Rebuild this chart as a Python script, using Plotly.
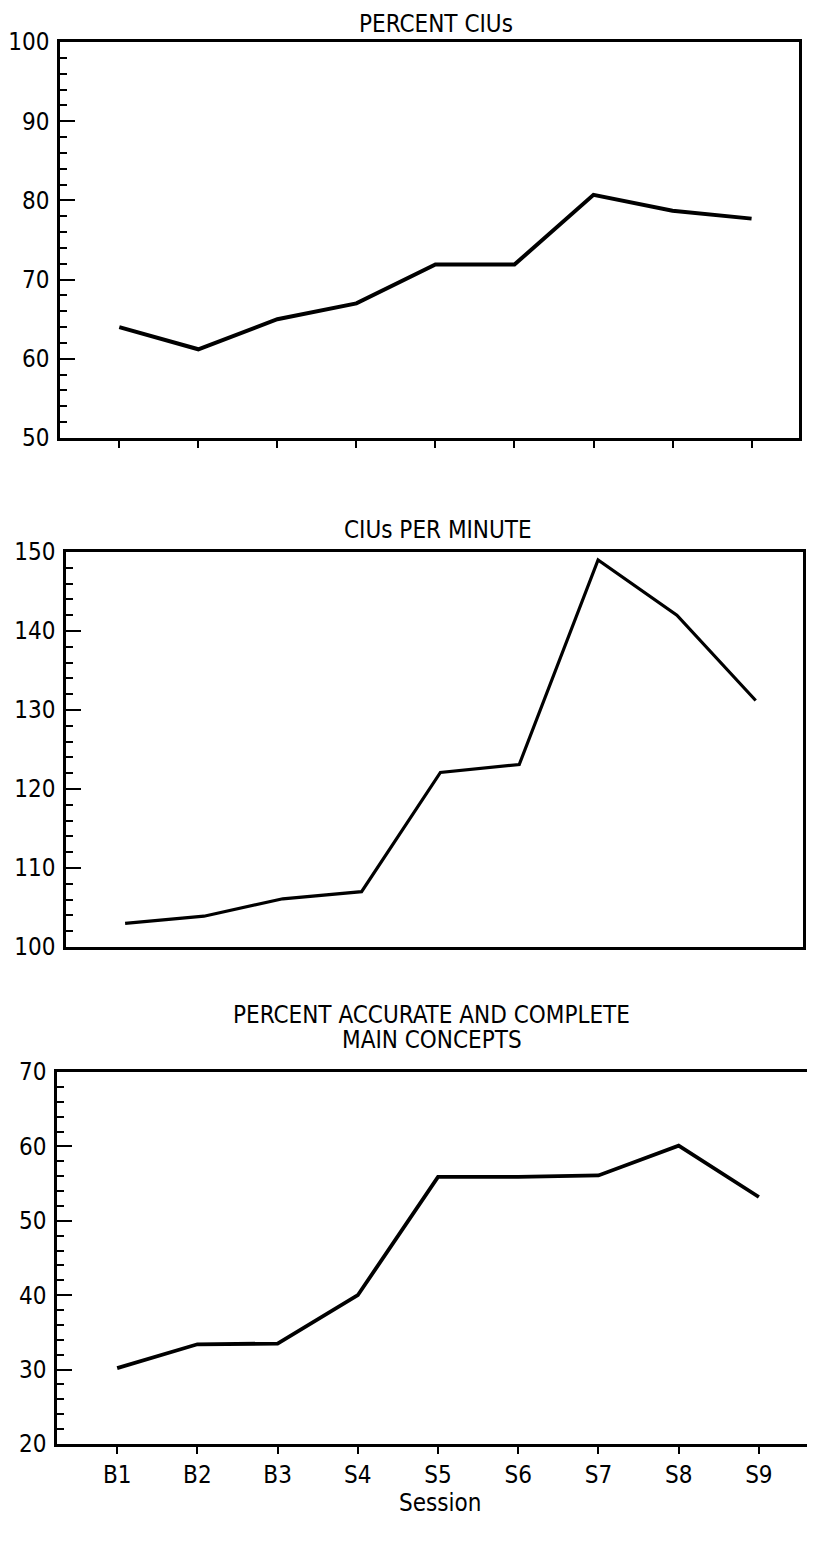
import plotly.graph_objects as go

sessions = ["B1", "B2", "B3", "S4", "S5", "S6", "S7", "S8", "S9"]
percent_cius = [64, 61.2, 65, 67, 71.9, 71.9, 80.7, 78.7, 77.7]
cius_per_minute = [103, 103.9, 106.1, 107, 122.1, 123.1, 149, 142, 131.2]
percent_main_concepts = [30.2, 33.4, 33.5, 40, 55.9, 55.9, 56.1, 60.1, 53.2]

titles = ["PERCENT CIUs", "CIUs PER MINUTE",
          "PERCENT ACCURATE AND COMPLETE", "MAIN CONCEPTS"]
y_ranges = [(50, 100), (100, 150), (20, 70)]
x_label = "Session"

# page body has an 8px margin, so the figure is drawn 8px smaller and offset
OFF = 8
W, H = 815 - OFF, 1543 - OFF
# plot-area pixel boxes in reference-image coordinates (left, right, top, bottom)
boxes = [(60, 799, 42, 438), (66, 803, 552, 947), (57, 807, 1072, 1444)]

FONT = "DejaVu Sans Condensed, DejaVu Sans, sans-serif"


def px(xp):
    return (xp - OFF) / W


def py(yp):
    return 1 - (yp - OFF) / H


fig = go.Figure()
series = [percent_cius, cius_per_minute, percent_main_concepts]
widths = [4, 3.2, 3.8]
for i, vals in enumerate(series):
    sfx = "" if i == 0 else str(i + 1)
    fig.add_trace(go.Scatter(x=sessions, y=vals, mode="lines",
                             line=dict(color="black", width=widths[i]),
                             xaxis="x" + sfx, yaxis="y" + sfx, showlegend=False))

layout = dict(width=W, height=H, margin=dict(l=0, r=0, t=0, b=0, pad=0, autoexpand=False),
              plot_bgcolor="white", paper_bgcolor="white", showlegend=False)

for i, (l, r, t, b) in enumerate(boxes):
    sfx = "" if i == 0 else str(i + 1)
    xdom = [max(0, px(l)), min(1, px(r))]
    ydom = [py(b), py(t)]
    xa = dict(domain=xdom, type="category", range=[-0.75, 8.6], automargin=False,
              showline=True, mirror=True, linecolor="black", linewidth=2.5,
              showgrid=False, zeroline=False, anchor="y" + sfx,
              tickvals=sessions,
              ticktext=sessions if i == 2 else [""] * len(sessions),
              ticks="outside" if i != 1 else "", ticklen=7, tickwidth=2, tickcolor="black",
              tickfont=dict(family=FONT, size=24, color="black"),
              ticklabelstandoff=0, fixedrange=True)
    ya = dict(domain=ydom, range=list(y_ranges[i]), dtick=10, tick0=y_ranges[i][0],
              automargin=False,
              showline=True, mirror=True, linecolor="black", linewidth=2.5,
              showgrid=False, zeroline=False, anchor="x" + sfx,
              ticks="inside", ticklen=15, tickwidth=2, tickcolor="black",
              minor=dict(ticks="inside", ticklen=7, dtick=2, tickwidth=2, tickcolor="black", showgrid=False),
              tickfont=dict(family=FONT, size=24, color="black"),
              ticklabelstandoff=3, fixedrange=True)
    layout["xaxis" + sfx] = xa
    layout["yaxis" + sfx] = ya

fig.update_layout(**layout)

title_pos = [(436, 24), (438, 530), (432, 1015), (432, 1040)]
for txt, (cx, cy) in zip(titles, title_pos):
    fig.add_annotation(text=txt, x=px(cx), y=py(cy), xref="paper", yref="paper",
                       showarrow=False, xanchor="center", yanchor="middle",
                       font=dict(family=FONT, size=24, color="black"))
fig.add_annotation(text=x_label, x=px(440), y=py(1503), xref="paper", yref="paper",
                   showarrow=False, xanchor="center", yanchor="middle",
                   font=dict(family=FONT, size=24, color="black"))

fig.write_html("out.html")
